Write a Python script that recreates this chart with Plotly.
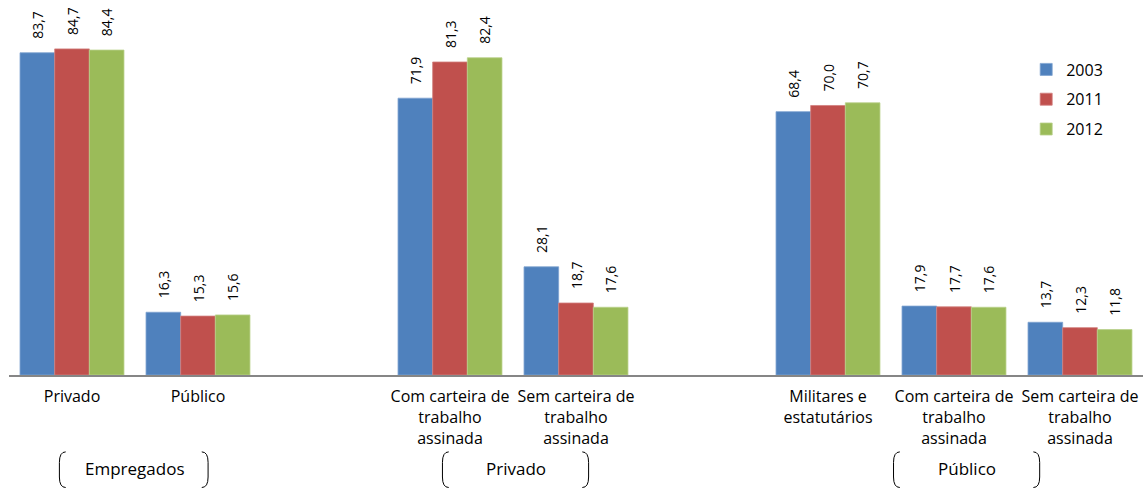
import plotly.graph_objects as go

categories = ["Privado", "Público", "Com carteira de<br>trabalho<br>assinada",
              "Sem carteira de<br>trabalho<br>assinada", "Militares e<br>estatutários",
              "Com carteira de<br>trabalho<br>assinada", "Sem carteira de<br>trabalho<br>assinada"]
positions = [0, 1, 3, 4, 6, 7, 8]
years = ["2003", "2011", "2012"]
v2003 = [83.7, 16.3, 71.9, 28.1, 68.4, 17.9, 13.7]
v2011 = [84.7, 15.3, 81.3, 18.7, 70.0, 17.7, 12.3]
v2012 = [84.4, 15.6, 82.4, 17.6, 70.7, 17.6, 11.8]
groups = ["Empregados", "Privado", "Público"]
group_centers = [0.5, 3.52, 7.1]
group_spans = [(-0.1, 1.08), (2.94, 4.1), (6.52, 7.68)]

colors = ["#4F81BD", "#C0504D", "#9BBB59"]
edges = ["#7FA3D0", "#D27F7D", "#B9D08A"]
FONT = "Open Sans"

fig = go.Figure()
for i, (yr, vals) in enumerate(zip(years, [v2003, v2011, v2012])):
    fig.add_trace(go.Bar(
        x=positions, y=vals, name=yr,
        marker=dict(color=colors[i], line=dict(color=edges[i], width=0.8)),
        text=["\u00a0\u00a0\u00a0" + f"{v:.1f}".replace(".", ",") for v in vals],
        textposition="outside", textangle=-90, constraintext="none",
        textfont=dict(family=FONT, size=14, color="#000000"),
        cliponaxis=False, legendgroup=yr,
    ))

shapes = []
ytop, ybot = -0.205, -0.30
w, h = 0.05, 0.028
for (x0, x1) in group_spans:
    shapes.append(dict(type="path", xref="x", yref="paper",
                       path=f"M {x0+w},{ytop} Q {x0},{ytop} {x0},{ytop-h} L {x0},{ybot+h} Q {x0},{ybot} {x0+w},{ybot}",
                       line=dict(color="#000000", width=1)))
    shapes.append(dict(type="path", xref="x", yref="paper",
                       path=f"M {x1-w},{ytop} Q {x1},{ytop} {x1},{ytop-h} L {x1},{ybot+h} Q {x1},{ybot} {x1-w},{ybot}",
                       line=dict(color="#000000", width=1)))

annotations = [dict(x=c, y=-0.25, xref="x", yref="paper", yanchor="middle", text=g,
                    showarrow=False, font=dict(family=FONT, size=17, color="#000000"))
               for g, c in zip(groups, group_centers)]

fig.update_layout(
    width=1144, height=490,
    margin=dict(l=9, r=1, t=0, b=115),
    barmode="group", bargap=0.175, bargroupgap=0,
    plot_bgcolor="white", paper_bgcolor="white",
    xaxis=dict(tickmode="array", tickvals=positions, ticktext=categories,
               range=[-0.5, 8.5], showline=True, linecolor="#868686", linewidth=1.5,
               ticks="outside", ticklen=6, tickcolor="rgba(0,0,0,0)",
               showgrid=False, zeroline=False,
               tickfont=dict(family=FONT, size=16, color="#000000")),
    yaxis=dict(range=[0, 97.4], visible=False, showgrid=False),
    legend=dict(x=0.897, y=0.86, xanchor="left", yanchor="top",
                font=dict(family=FONT, size=16, color="#000000"),
                tracegroupgap=6, traceorder="grouped", itemwidth=30,
                bgcolor="rgba(0,0,0,0)"),
    shapes=shapes, annotations=annotations,
)
fig.write_html("out.html", config={"displayModeBar": False},
               post_script="document.body.style.margin='0';")
